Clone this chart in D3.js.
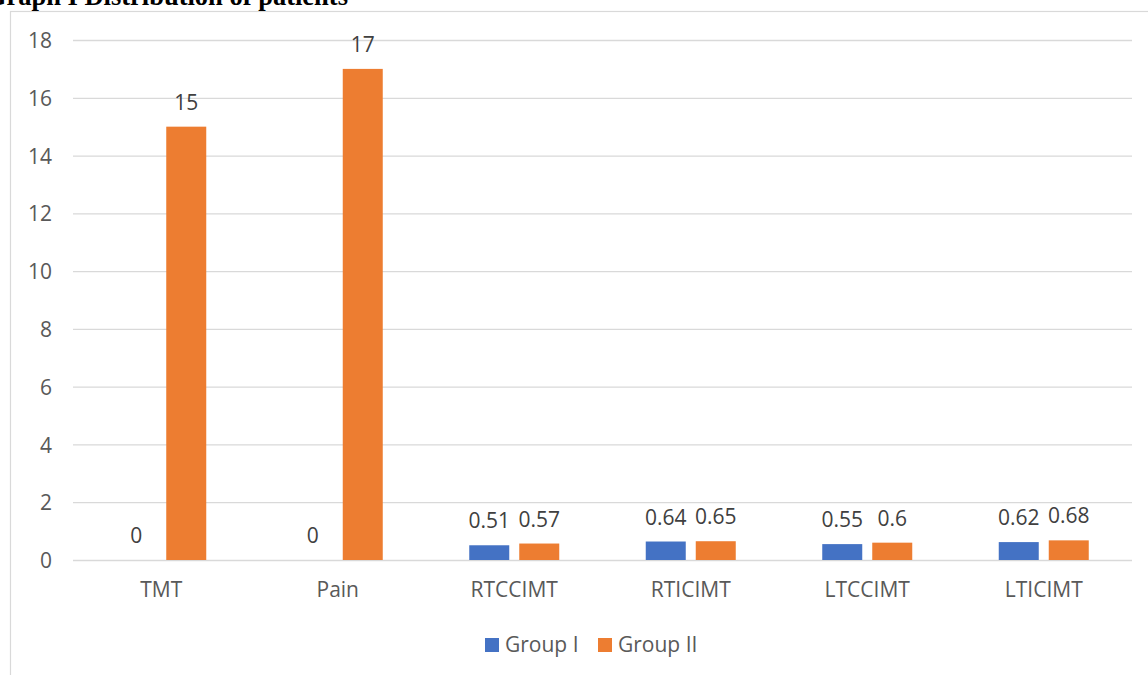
<!DOCTYPE html>
<html>
<head>
<meta charset="utf-8">
<script src="https://cdn.jsdelivr.net/npm/d3@7"></script>
<style>
  html, body { margin: 0; padding: 0; background: #fff; }
  svg { display: block; }
</style>
</head>
<body>
<svg id="chart" width="1148" height="675"></svg>
<script>
// Chart data
const categories = ["TMT", "Pain", "RTCCIMT", "RTICIMT", "LTCCIMT", "LTICIMT"];
const seriesNames = ["Group I", "Group II"];
const groupI = [0, 0, 0.51, 0.64, 0.55, 0.62];
const groupII = [15, 17, 0.57, 0.65, 0.6, 0.68];
const yTicks = [0, 2, 4, 6, 8, 10, 12, 14, 16, 18];
const titleText = "Graph I Distribution of patients";

const colors = { "Group I": "#4472C4", "Group II": "#ED7D31" };
const font = "'Open Sans', 'Liberation Sans', sans-serif";
const fontSize = 21;

const svg = d3.select("#chart");

// Outer chart frame
svg.append("rect")
  .attr("x", 10.5).attr("y", 11.5)
  .attr("width", 1300).attr("height", 800)
  .attr("fill", "none").attr("stroke", "#d9d9d9").attr("stroke-width", 1.2);

// Caption above the frame
svg.append("text")
  .attr("x", 348).attr("y", 5)
  .attr("text-anchor", "end")
  .attr("font-family", "'Liberation Serif', 'Times New Roman', serif")
  .attr("font-weight", "bold")
  .attr("font-size", 26.5)
  .attr("fill", "#000")
  .text(titleText);

const plot = { left: 73, right: 1132, top: 40, bottom: 560 };

const x0 = d3.scaleBand().domain(categories).range([plot.left, plot.right]).padding(0);
const x1 = d3.scaleBand().domain(seriesNames).range([-45, 45]).paddingInner(0.2).paddingOuter(0);
const y = d3.scaleLinear().domain([0, 18]).range([plot.bottom, plot.top]);

// Horizontal gridlines and value axis
const yAxis = d3.axisLeft(y).tickValues(yTicks).tickSize(-(plot.right - plot.left)).tickPadding(21);
const gy = svg.append("g").attr("transform", `translate(${plot.left},0)`).call(yAxis);
gy.select(".domain").remove();
gy.selectAll(".tick line").attr("stroke", "#d9d9d9").attr("stroke-width", 1.3);
gy.selectAll(".tick text")
  .attr("font-family", font).attr("font-size", fontSize).attr("fill", "#595959")
  .attr("dy", "0.36em");

// Category axis labels
const xAxis = d3.axisBottom(x0).tickSize(0).tickPadding(22);
const gx = svg.append("g").attr("transform", `translate(0,${plot.bottom})`).call(xAxis);
gx.select(".domain").remove();
gx.selectAll(".tick text")
  .attr("font-family", font).attr("font-size", fontSize).attr("fill", "#595959");

// Bars and value labels
const rows = categories.map((c, i) => ({
  category: c,
  values: [
    { series: "Group I", value: groupI[i] },
    { series: "Group II", value: groupII[i] }
  ]
}));

const groups = svg.append("g").selectAll("g")
  .data(rows).join("g")
  .attr("transform", d => `translate(${x0(d.category) + x0.bandwidth() / 2},0)`);

groups.selectAll("rect")
  .data(d => d.values).join("rect")
  .attr("x", d => x1(d.series))
  .attr("width", x1.bandwidth())
  .attr("y", d => y(d.value))
  .attr("height", d => y(0) - y(d.value))
  .attr("fill", d => colors[d.series]);

groups.selectAll("text.val")
  .data(d => d.values).join("text")
  .attr("class", "val")
  .attr("x", d => x1(d.series) + x1.bandwidth() / 2)
  .attr("y", d => y(d.value) - 17)
  .attr("text-anchor", "middle")
  .attr("font-family", font).attr("font-size", fontSize).attr("fill", "#404040")
  .text(d => d.value);

// Legend
const legend = svg.append("g");
const legendItems = [
  { name: "Group I", x: 485 },
  { name: "Group II", x: 598 }
];
legendItems.forEach(item => {
  legend.append("rect")
    .attr("x", item.x).attr("y", 638)
    .attr("width", 14).attr("height", 14)
    .attr("fill", colors[item.name]);
  legend.append("text")
    .attr("x", item.x + 20).attr("y", 652)
    .attr("font-family", font).attr("font-size", fontSize).attr("fill", "#595959")
    .text(item.name);
});
</script>
</body>
</html>
